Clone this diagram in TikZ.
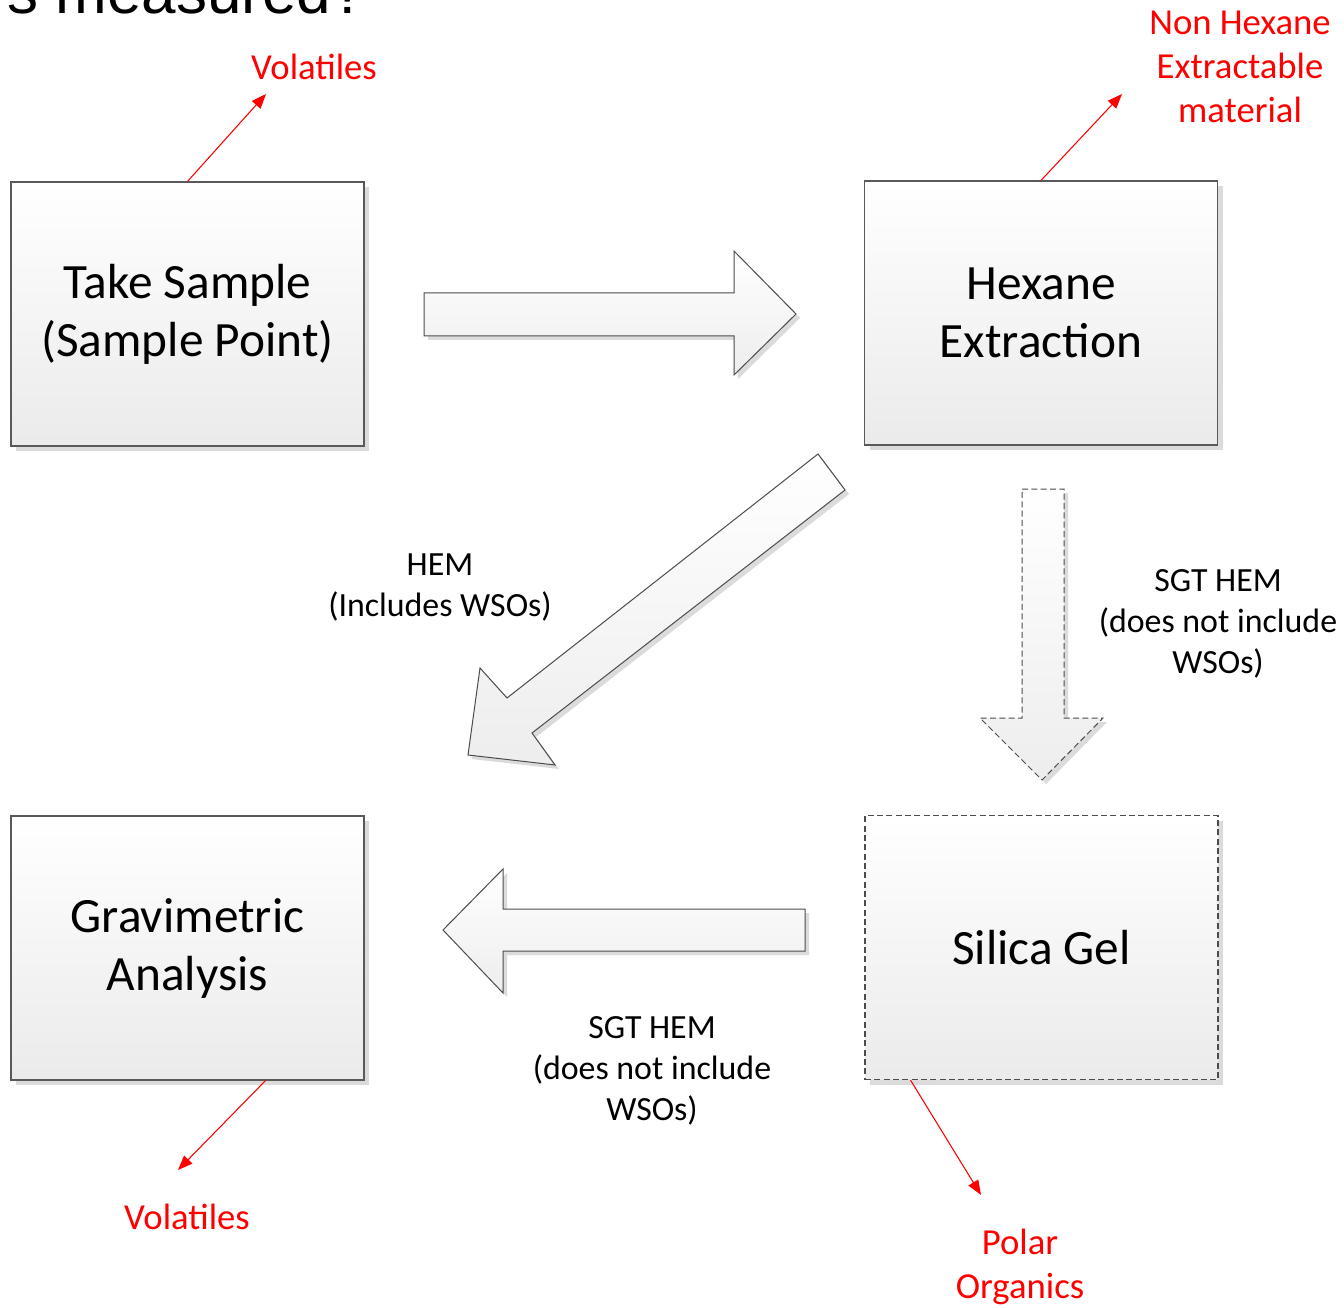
\documentclass[tikz,border=0pt]{standalone}
\usepackage{fontspec}
\setmainfont{Carlito}
\newfontfamily\titlefont{Liberation Sans}
\usetikzlibrary{arrows.meta,shadows,calc}
\tikzset{
  procbox/.style={draw=black!65, line width=0.9pt, top color=white, bottom color=black!8,
    minimum width=264.75pt, minimum height=198pt, align=center,
    font=\fontsize{37}{43.5}\selectfont,
    general shadow={shadow xshift=3.75pt, shadow yshift=-3.75pt, fill=black!14}},
  dashedbox/.style={procbox, draw=black!70, dash pattern=on 4.5pt off 2.5pt},
  blockarrow/.style={draw=black!70, line width=0.75pt, top color=white, bottom color=black!7,
    general shadow={shadow xshift=3pt, shadow yshift=-3pt, fill=black!14}},
  flowlabel/.style={align=center, font=\fontsize{25.4}{30.75}\selectfont},
  redlabel/.style={align=center, text=red, font=\fontsize{27.5}{33}\selectfont},
  redarrow/.style={draw=red, line width=0.8pt, -{Triangle[length=11pt,width=8.5pt]}},
}
\begin{document}
\begin{tikzpicture}[x=0.75pt,y=-0.75pt]
\useasboundingbox[fill=white] (0,0) rectangle (1344,1308);

% clipped title fragment (cut at the top edge, as in the reference)
\begin{scope}
  \clip (0,0) rectangle (1344,1308);
  \node[anchor=base east, inner sep=0pt, font=\titlefont\fontsize{46.5}{50}\selectfont] (title) at (366,14) {s measured?};
\end{scope}

% boxes
\node[procbox] (b1) at (187.5,314) {Take Sample\\(Sample Point)};
\node[procbox] (b2) at (1041,313) {Hexane\\Extraction};
\node[procbox] (b3) at (187.5,948) {Gravimetric\\Analysis};
\node[dashedbox] (b4) at (1041.5,947.5) {Silica Gel};

% block arrows
\draw[blockarrow] (424,293) -- (734,293) -- (734,251) -- (796,314) -- (734,375) -- (734,336) -- (424,336) -- cycle;
\draw[blockarrow] (818,454) -- (845,490) -- (532,733) -- (555,765) -- (468,755) -- (480,668) -- (507,698) -- cycle;
\draw[blockarrow, dash pattern=on 4.5pt off 2.5pt] (1022,489) -- (1064,489) -- (1064,718) -- (1103,718) -- (1042,780) -- (980,718) -- (1022,718) -- cycle;
\draw[blockarrow] (443,930) -- (503,869) -- (503,909) -- (805,909) -- (805,951) -- (503,951) -- (503,993) -- cycle;

% flow labels
\node[flowlabel] (l1) at (440,587) {HEM\\(Includes WSOs)};
\node[flowlabel] (l2) at (1218,624) {SGT HEM\\(does not include\\WSOs)};
\node[flowlabel] (l3) at (652,1071) {SGT HEM\\(does not include\\WSOs)};

% red outputs
\coordinate (v1) at (266,94);
\coordinate (v2) at (1122,94);
\coordinate (v3) at (178,1170);
\coordinate (v4) at (981,1195);
\draw[redarrow] (b1.north) -- (v1);
\draw[redarrow] (b2.north) -- (v2);
\draw[redarrow] ($(b3.south)+(78,0)$) -- (v3);
\draw[redarrow] ($(b4.south)+(-131,0)$) -- (v4);

\node[redlabel] (r1) at (314,67) {Volatiles};
\node[redlabel] (r2) at (1240,67) {Non Hexane\\Extractable\\material};
\node[redlabel] (r3) at (187,1217) {Volatiles};
\node[redlabel] (r4) at (1020,1267) {Polar\\Organics};
\end{tikzpicture}
\end{document}
